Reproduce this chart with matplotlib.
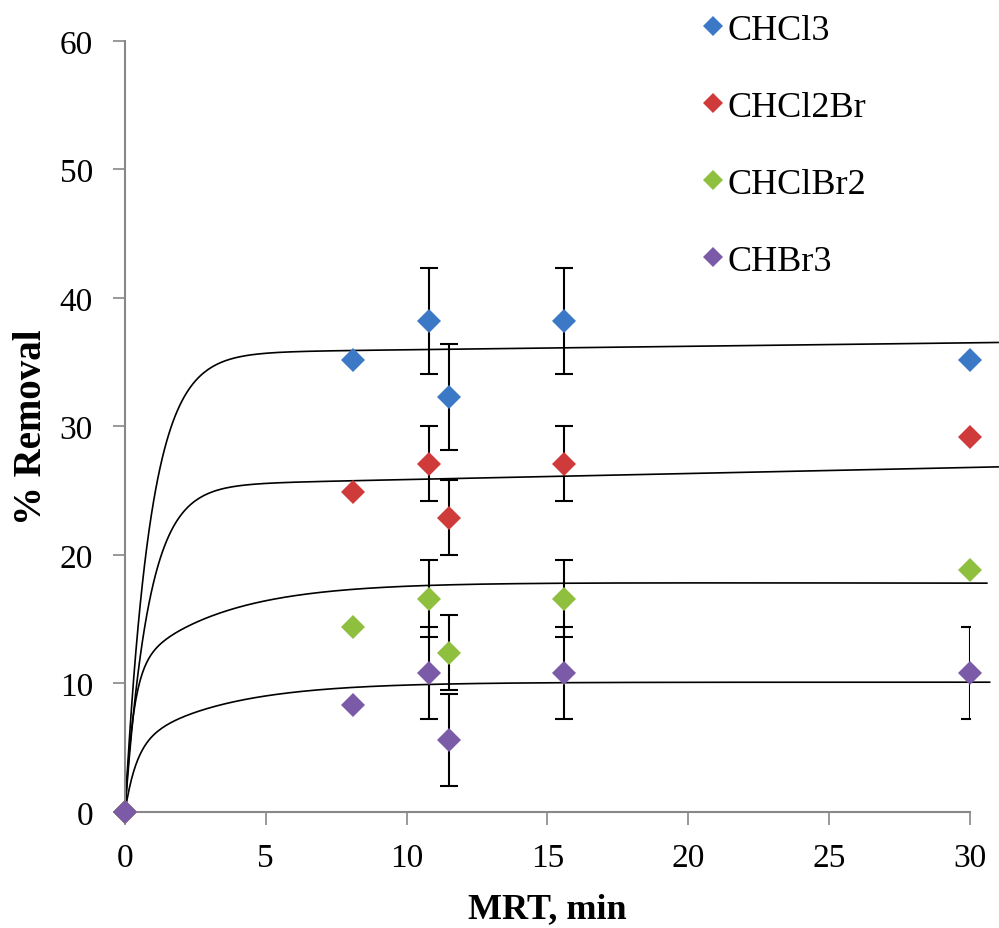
import numpy as np
import matplotlib

matplotlib.use("Agg")

import matplotlib.pyplot as plt
from matplotlib.lines import Line2D

# measured points
mrt = [0, 8.1, 10.8, 11.5, 15.6, 30]
series_names = ["CHCl3", "CHCl2Br", "CHClBr2", "CHBr3"]
chcl3 = [0, 35.2, 38.2, 32.3, 38.2, 35.2]
chcl2br = [0, 24.9, 27.1, 22.9, 27.1, 29.2]
chclbr2 = [0, 14.4, 16.6, 12.4, 16.6, 18.8]
chbr3 = [0, 8.3, 10.8, 5.6, 10.8, 10.8]

# standard deviations (0 = no bar drawn)
err_chcl3 = [0, 0, 4.1, 4.1, 4.1, 0]
err_chcl2br = [0, 0, 2.9, 2.9, 2.9, 0]
err_chclbr2 = [0, 0, 3.0, 2.9, 3.0, 0]
err_chbr3 = [0, 0, 3.6, 3.6, 3.6, 3.6]

# fitted kinetic curves: A1(1-exp(-t/t1)) + A2(1-exp(-t/t2)) + b*t
fit_a1 = [35.7, 25.4, 11.0, 5.0]
fit_t1 = [0.9, 0.84, 0.30, 0.40]
fit_a2 = [0.0, 0.0, 6.9, 5.1]
fit_t2 = [1.0, 1.0, 3.2, 3.2]
fit_b = [0.027, 0.047, -0.003, 0.0]
fit_tmax = [31.0, 31.0, 30.6, 30.7]

x_ticks = [0, 5, 10, 15, 20, 25, 30]
y_ticks = [0, 10, 20, 30, 40, 50, 60]

colors = ["#3b78c6", "#cf3b3b", "#8fbf3e", "#7b5ba8"]

plt.rcParams["font.family"] = ["Liberation Serif", "DejaVu Serif"]

fig = plt.figure(figsize=(9.99, 9.29), dpi=100)
ax = fig.add_axes([0.1251, 0.1249, 0.8458, 0.8299])

values = [chcl3, chcl2br, chclbr2, chbr3]
errors = [err_chcl3, err_chcl2br, err_chclbr2, err_chbr3]

# fitted curves
for i in range(4):
    t = np.linspace(0, fit_tmax[i], 400)
    y = (fit_a1[i] * (1 - np.exp(-t / fit_t1[i]))
         + fit_a2[i] * (1 - np.exp(-t / fit_t2[i]))
         + fit_b[i] * t)
    ax.plot(t, y, color="black", lw=1.2, clip_on=False, zorder=2)

# error bars
for vals, errs in zip(values, errors):
    xs = [x for x, e in zip(mrt, errs) if e > 0]
    ys = [v for v, e in zip(vals, errs) if e > 0]
    es = [e for e in errs if e > 0]
    ax.errorbar(xs, ys, yerr=es, fmt="none", ecolor="black",
                elinewidth=1.5, capsize=6.5, capthick=1.5, zorder=3)

# markers
for vals, col in zip(values, colors):
    ax.plot(mrt, vals, linestyle="none", marker="D", ms=12,
            color=col, markeredgewidth=0, clip_on=False, zorder=4)

ax.set_xlim(0, 30)
ax.set_ylim(0, 60)
ax.set_xticks(x_ticks)
ax.set_yticks(y_ticks)
ax.tick_params(axis="both", labelsize=24, colors="#000000", length=9,
               width=1.2, direction="out", color="#888888")
ax.tick_params(axis="x", pad=13)
ax.tick_params(axis="y", pad=14)

for side in ["top", "right"]:
    ax.spines[side].set_visible(False)
for side in ["left", "bottom"]:
    ax.spines[side].set_color("#888888")
    ax.spines[side].set_linewidth(1.5)

ax.set_xlabel("MRT, min", fontsize=26, fontweight="bold", labelpad=14)
ax.set_ylabel("% Removal", fontsize=28, fontweight="bold", labelpad=7)

handles = [Line2D([], [], linestyle="none", marker="D", ms=10.5,
                  color=c, markeredgewidth=0) for c in colors]
fig.legend(handles, series_names, loc="upper left",
           bbox_to_anchor=(0.688, 1.0), frameon=False, fontsize=26,
           handlelength=0.6, handletextpad=0.1, labelspacing=1.21,
           borderaxespad=0)

fig.savefig("out.png", dpi=100, facecolor="white")
